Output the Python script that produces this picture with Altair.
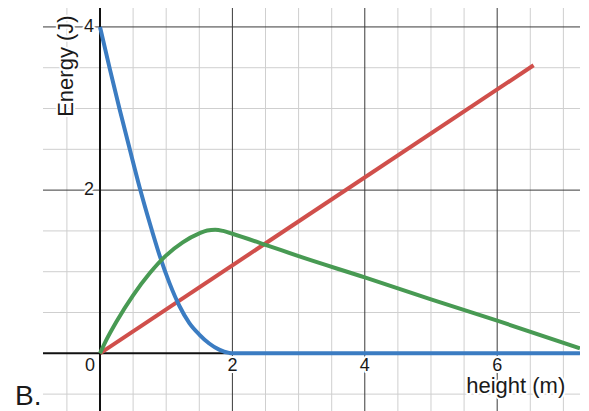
import altair as alt
import pandas as pd

# ---- data ----
blue_x = [0.0, 0.15, 0.3, 0.45, 0.6, 0.75, 0.9, 1.05, 1.2, 1.35, 1.5, 1.65, 1.8, 1.95, 2.0, 7.25]
blue_y = [4.0, 3.48, 2.98, 2.5, 2.03, 1.6, 1.2, 0.86, 0.58, 0.37, 0.23, 0.12, 0.045, 0.005, 0.0, 0.0]

red_x = [0.0, 6.55]
red_y = [0.0, 3.53]

green_x = [0.0, 0.1, 0.25, 0.5, 0.75, 1.0, 1.25, 1.5, 1.62, 1.74, 1.86, 2.0, 2.5, 3.0, 4.0, 5.0, 6.0, 7.25]
green_y = [0.0, 0.17, 0.39, 0.71, 0.98, 1.2, 1.36, 1.47, 1.505, 1.515, 1.5, 1.465, 1.33, 1.19, 0.93, 0.66, 0.40, 0.06]

minor_x = [-0.5, 0.5, 1.0, 1.5, 2.5, 3.0, 3.5, 4.5, 5.0, 5.5, 6.5, 7.0]
minor_y = [-0.5, 0.5, 1.0, 1.5, 2.5, 3.0, 3.5]
major_x = [2, 4, 6]
major_y = [2, 4]

x_tick_labels = ["0", "2", "4", "6"]
x_tick_values = [0, 2, 4, 6]
y_tick_labels = ["2", "4"]
y_tick_values = [2, 4]

x_title = "height (m)"
y_title = "Energy (J)"
panel_label = "B."

# ---- styling ----
FONT = "Liberation Sans"
TEXT = "#1a1a1a"
BLUE = "#3b7cc2"
RED = "#d04f4b"
GREEN = "#489a53"

xs = alt.Scale(domain=[-0.861, 7.251], nice=False, zero=False)
ys = alt.Scale(domain=[-0.707, 4.232], nice=False, zero=False)


def vrules(vals, color, width):
    return alt.Chart(pd.DataFrame({"x": vals})).mark_rule(color=color, strokeWidth=width).encode(
        x=alt.X("x:Q", scale=xs, axis=None))


def hrules(vals, color, width):
    return alt.Chart(pd.DataFrame({"y": vals})).mark_rule(color=color, strokeWidth=width).encode(
        y=alt.Y("y:Q", scale=ys, axis=None))


def line(xv, yv, color):
    return alt.Chart(pd.DataFrame({"x": xv, "y": yv})).mark_line(
        color=color, strokeWidth=4, interpolate="monotone").encode(
        x=alt.X("x:Q", scale=xs, axis=None), y=alt.Y("y:Q", scale=ys, axis=None))


def texts(xv, yv, tv, size, angle=0, align="center", baseline="middle"):
    base = alt.Chart(pd.DataFrame({"x": xv, "y": yv, "t": tv})).encode(
        x=alt.X("x:Q", scale=xs, axis=None), y=alt.Y("y:Q", scale=ys, axis=None), text="t:N")
    halo = base.mark_text(font=FONT, fontSize=size, angle=angle, align=align, baseline=baseline,
                          fill="white", stroke="white", strokeWidth=4, strokeJoin="round")
    fg = base.mark_text(font=FONT, fontSize=size, angle=angle, align=align, baseline=baseline, color=TEXT)
    return [halo, fg]


layers = [
    vrules(minor_x, "#cfcfcf", 1),
    hrules(minor_y, "#cfcfcf", 1),
    vrules(major_x, "#3a3a3a", 1),
    hrules(major_y, "#3a3a3a", 1),
    vrules([0], "#111111", 2),
    hrules([0], "#111111", 2),
    line(red_x, red_y, RED),
    line(blue_x, blue_y, BLUE),
    line(green_x, green_y, GREEN),
]

# tick labels, titles and panel label (positions in data units)
layers += texts([-0.151, 2, 4, 6], [-0.155] * 4, x_tick_labels, 18)
layers += texts([-0.166] * 2, y_tick_values, y_tick_labels, 18)
layers += texts([-0.52], [3.52], [y_title], 22, angle=270)
layers += texts([6.28], [-0.49], [x_title], 22, baseline="alphabetic")
layers += texts([-1.284], [-0.633], [panel_label], 28, align="left", baseline="alphabetic")

chart = alt.layer(*layers).properties(
    width=537,
    height=403,
    autosize=alt.AutoSizeParams(type="none"),
    padding={"left": 35, "top": 0, "right": 0, "bottom": 0},
).configure_view(stroke=None)

chart.save("out.html", embed_options={"renderer": "svg", "actions": False})
